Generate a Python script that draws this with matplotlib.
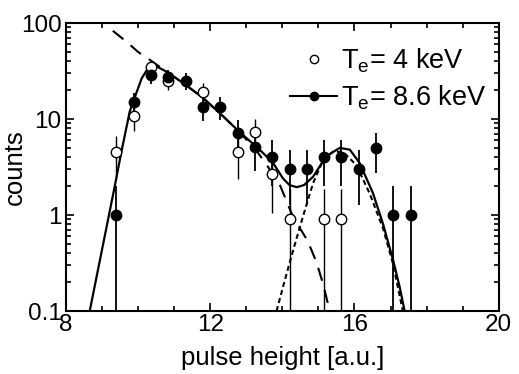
import numpy as np
import matplotlib
matplotlib.use("Agg")
import matplotlib.pyplot as plt
from matplotlib.lines import Line2D
from matplotlib.ticker import FixedLocator, NullFormatter

plt.rcParams['font.family'] = ['Liberation Sans', 'DejaVu Sans']
plt.rcParams['mathtext.fontset'] = 'custom'
plt.rcParams['mathtext.rm'] = 'Liberation Sans'

# Messpunkte T_e = 4 keV (offen)
x_open = [9.40, 9.88, 10.36, 10.84, 11.80, 12.76, 13.24, 13.72, 14.20, 15.16, 15.64]
y_open = [4.5, 10.7, 35.0, 25.0, 19.2, 4.5, 7.3, 2.7, 0.9, 0.9, 0.9]

# Messpunkte T_e = 8.6 keV (gefuellt)
x_full = [9.40, 9.88, 10.36, 10.84, 11.32, 11.80, 12.28, 12.76, 13.24, 13.72,
          14.20, 14.68, 15.16, 15.64, 16.12, 16.60, 17.08, 17.56]
y_full = [1.0, 15.0, 28.7, 27.5, 25.0, 13.2, 13.4, 7.1, 5.1, 4.0,
          3.0, 3.0, 4.0, 4.0, 3.0, 5.0, 1.0, 1.0]

# Fitkurven
x_fit = [8.66, 9.36, 9.54, 9.77, 9.96, 10.10, 10.28, 10.50, 10.80, 11.30, 11.80,
         12.30, 12.80, 13.37, 13.74, 14.02, 14.20, 14.40, 14.60, 14.85, 15.22, 15.59,
         15.87, 16.14, 16.51, 16.79, 17.07, 17.25, 17.39]
y_fit = [0.1, 2.05, 4.6, 12.0, 19.0, 26.5, 34.0, 35.5, 31.0, 23.0, 16.6,
         11.2, 7.4, 4.8, 3.5, 2.4, 2.05, 1.95, 2.05, 2.5, 4.1, 5.0,
         4.8, 3.5, 1.7, 0.81, 0.34, 0.18, 0.1]

x_low = [9.30, 9.70, 10.00, 10.30, 10.80, 11.30, 11.80, 12.30, 12.80, 13.30,
         13.90, 14.30, 14.70, 14.95, 15.15, 15.31]
y_low = [83.0, 63.0, 50.0, 42.0, 31.0, 23.0, 16.6, 11.2, 7.4, 4.6,
         2.2, 0.95, 0.54, 0.32, 0.18, 0.1]

x_high = [13.84, 14.07, 14.30, 14.57, 14.85, 15.13, 15.40, 15.68, 16.05, 16.42,
          16.79, 17.07, 17.34]
y_high = [0.1, 0.21, 0.43, 0.96, 2.14, 3.74, 4.56, 4.56, 3.32, 1.68,
          0.73, 0.31, 0.1]

fig = plt.figure(figsize=(5.19, 3.74), dpi=100)
ax = fig.add_axes([0.127, 0.1684, 0.834, 0.770])
ax.set_yscale('log')

# Fehlerbalken (Poisson)
for xs, ys, lw in [(x_full, y_full, 1.3), (x_open, y_open, 1.0)]:
    ys = np.array(ys)
    err = np.sqrt(ys)
    lo = np.minimum(err, ys - 1e-4)
    ax.errorbar(xs, ys, yerr=[lo, err], fmt='none', ecolor='k', elinewidth=lw,
                capsize=0, zorder=2)

ax.plot(x_low, y_low, color='k', lw=1.5, dashes=(6.5, 4.5), zorder=3)
ax.plot(x_high, y_high, color='k', lw=1.5, dashes=(2.4, 1.6), zorder=3)
ax.plot(x_fit, y_fit, color='k', lw=1.6, zorder=4)

ax.plot(x_open, y_open, 'o', ms=7.5, mfc='white', mec='k', mew=1.0, zorder=5)
ax.plot(x_full, y_full, 'o', ms=7.5, mfc='k', mec='k', zorder=6)

ax.set_xlim(8, 20)
ax.set_ylim(0.1, 100)
ax.set_xticks([8, 12, 16, 20])
ax.set_xticklabels(['8', '12', '16', '20'])
ax.xaxis.set_minor_locator(FixedLocator(np.arange(8, 21, 1)))
ax.set_yticks([0.1, 1, 10, 100])
ax.set_yticklabels(['0.1', '1', '10', '100'])
ax.yaxis.set_minor_formatter(NullFormatter())

ax.tick_params(which='both', direction='in', top=True, right=True, labelsize=17.5,
               width=1.2)
ax.tick_params(axis='y', pad=3)
ax.tick_params(axis='x', pad=2)
ax.tick_params(which='major', length=6)
ax.tick_params(which='minor', length=3.5)
for s in ax.spines.values():
    s.set_linewidth(1.5)

ax.set_xlabel('pulse height [a.u.]', fontsize=18.5)
ax.set_ylabel('counts', fontsize=18.5)
ax.xaxis.set_label_coords(0.5, -0.122)
ax.yaxis.set_label_coords(-0.09, 0.5)

h1 = Line2D([], [], ls='none', marker='o', ms=6, mfc='white', mec='k', mew=1.0)
h2 = Line2D([], [], color='k', lw=1.5, marker='o', ms=6, mfc='k', mec='k')
ax.legend([h1, h2], [r'T$_\mathrm{e}$= 4 keV', r'T$_\mathrm{e}$= 8.6 keV'],
          loc='upper right', bbox_to_anchor=(0.972, 0.918), frameon=False,
          fontsize=19.5, handlelength=1.75, handletextpad=0.15, labelspacing=0.3,
          borderaxespad=0, borderpad=0, numpoints=1)

fig.savefig('out.png', dpi=100)
